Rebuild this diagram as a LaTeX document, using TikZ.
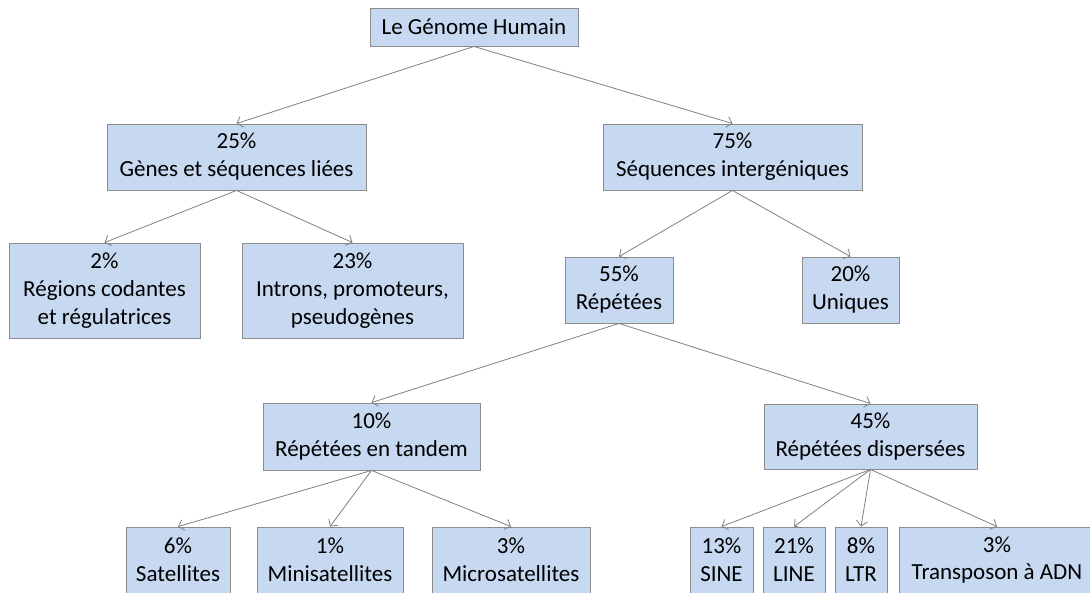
\documentclass[tikz,border=0pt]{standalone}
\usepackage{fontspec}
\setmainfont{Carlito}
\usetikzlibrary{arrows.meta}
\definecolor{boxfill}{RGB}{198,217,241}
\definecolor{boxline}{RGB}{140,140,140}
\definecolor{arrline}{RGB}{128,128,128}
\tikzset{
  box/.style={draw=boxline, fill=boxfill, line width=0.9pt, align=center, inner sep=0pt,
    font=\fontsize{23}{28}\selectfont},
  conn/.style={draw=arrline, line width=0.8pt, -{Straight Barb[length=5pt,width=11pt]}}
}
\begin{document}
\begin{tikzpicture}[x=1pt,y=-1pt]
\useasboundingbox (0,0) rectangle (1090,592);
\clip (0,0) rectangle (1090,592);
\node[box, minimum width=208, minimum height=38] (root) at (474,27) {Le Génome Humain};
\node[box, minimum width=259, minimum height=66] (g25) at (236.5,157) {25\%\\Gènes et séquences liées};
\node[box, minimum width=259, minimum height=66] (g75) at (732.5,157) {75\%\\Séquences intergéniques};
\node[box, minimum width=191, minimum height=95] (g2) at (104.5,290.5) {2\%\\Régions codantes\\et régulatrices};
\node[box, minimum width=221, minimum height=95] (g23) at (352.5,290.5) {23\%\\Introns, promoteurs,\\pseudogènes};
\node[box, minimum width=108, minimum height=66] (g55) at (619,290) {55\%\\Répétées};
\node[box, minimum width=97, minimum height=66] (g20) at (850.5,290) {20\%\\Uniques};
\node[box, minimum width=217, minimum height=67] (g10) at (371.5,436.5) {10\%\\Répétées en tandem};
\node[box, minimum width=213, minimum height=65] (g45) at (870.5,436.5) {45\%\\Répétées dispersées};
\node[box, minimum width=104, minimum height=66] (s6) at (178,560) {6\%\\Satellites};
\node[box, minimum width=146, minimum height=66] (s1) at (330,560) {1\%\\Minisatellites};
\node[box, minimum width=158, minimum height=66] (s3) at (511,560) {3\%\\Microsatellites};
\node[box, minimum width=63, minimum height=66] (sine) at (721.5,560) {13\%\\SINE};
\node[box, minimum width=62, minimum height=66] (line) at (794,560) {21\%\\LINE};
\node[box, minimum width=52, minimum height=66] (ltr) at (861,560) {8\%\\LTR};
\node[box, minimum width=196, minimum height=66] (tadn) at (997,560) {3\%\\Transposon à ADN};
\draw[conn] (root.south) -- (g25.north);
\draw[conn] (root.south) -- (g75.north);
\draw[conn] (g25.south) -- (g2.north);
\draw[conn] (g25.south) -- (g23.north);
\draw[conn] (g75.south) -- (g55.north);
\draw[conn] (g75.south) -- (g20.north);
\draw[conn] (g55.south) -- (g10.north);
\draw[conn] (g55.south) -- (g45.north);
\draw[conn] (g10.south) -- (s6.north);
\draw[conn] (g10.south) -- (s1.north);
\draw[conn] (g10.south) -- (s3.north);
\draw[conn] (g45.south) -- (sine.north);
\draw[conn] (g45.south) -- (line.north);
\draw[conn] (g45.south) -- (ltr.north);
\draw[conn] (g45.south) -- (tadn.north);
\end{tikzpicture}
\end{document}
